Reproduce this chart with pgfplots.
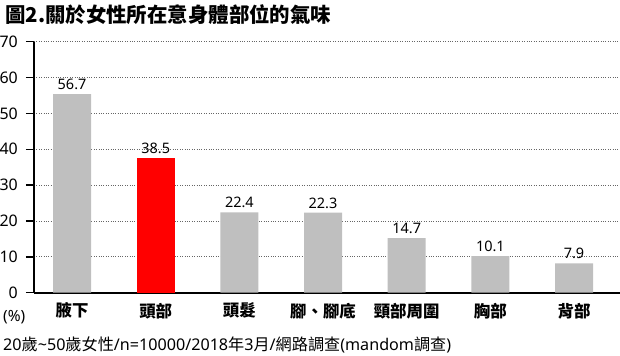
\documentclass[border=0pt]{standalone}
\usepackage{fontspec}
\setmainfont{Noto Sans}
\newfontfamily\cjk{Noto Sans CJK TC}
\usepackage{pgfplots}
\pgfplotsset{compat=1.18}
\usepackage{pgfplotstable}
\definecolor{bargray}{HTML}{BFBFBF}
\definecolor{barred}{HTML}{FF0000}

\pgfplotstableread{
x h label
0 55.4 56.7
2 22.4 22.4
3 22.3 22.3
4 15.2 14.7
5 10.2 10.1
6 8.2 7.9
}\graydata
\pgfplotstableread{
x h label
1 37.6 38.5
}\reddata

\begin{document}
\begin{tikzpicture}[x=1bp,y=1bp]
\begin{axis}[at={(0,0)}, anchor=south west, scale only axis,
  width=586bp, height=251bp,
  xmin=-0.455, xmax=6.55, ymin=0, ymax=70,
  ytick={0,10,...,70},
  xtick={0,...,6},
  xticklabels={腋下,頭部,頭髮,腳、腳底,頸部周圍,胸部,背部},
  axis x line*=bottom, axis y line*=left,
  axis line style={-, black, line width=2.2bp},
  ymajorgrids,
  major grid style={dotted, gray!80!black, line width=0.8bp},
  ytick style={black, line width=1.5bp},
  xtick style={draw=none},
  tick align=outside,
  major tick length=8bp,
  /pgf/number format/assume math mode=true,
  yticklabel style={font=\fontsize{16}{16}\selectfont, inner sep=0pt, xshift=-8bp},
  xticklabel style={font=\cjk\bfseries\fontsize{16.5}{16.5}\selectfont, inner sep=0pt, yshift=-2bp},
  nodes near coords,
  point meta=explicit symbolic,
  every node near coord/.append style={font=\fontsize{14.5}{14.5}\selectfont, anchor=south, inner sep=0pt, yshift=4bp},
  clip=false,
]
\addplot[ybar, bar width=38bp, bar shift=0pt, fill=bargray, draw=none] table[x=x, y=h, meta=label] {\graydata};
\addplot[ybar, bar width=38bp, bar shift=0pt, fill=barred, draw=none] table[x=x, y=h, meta=label] {\reddata};
\end{axis}
\node[anchor=west, inner sep=0pt, font=\cjk\bfseries\fontsize{20.5}{20.5}\selectfont] at (-29,278.5) {圖2.關於女性所在意身體部位的氣味};
\node[anchor=west, inner sep=0pt, font=\fontsize{15.5}{15.5}\selectfont] at (-31,-24.3) {(\%)};
\node[anchor=west, inner sep=0pt, font=\fontsize{16.2}{16.2}\selectfont] at (-31,-52.3) {20{\cjk 歲}\textasciitilde 50{\cjk 歲女性}/n=10000/2018{\cjk 年}3{\cjk 月}/{\cjk 網路調查}(mandom{\cjk 調查})};
\pgfresetboundingbox
\path[use as bounding box] (-34,-62.3) rectangle (586,292.7);
\end{tikzpicture}
\end{document}
